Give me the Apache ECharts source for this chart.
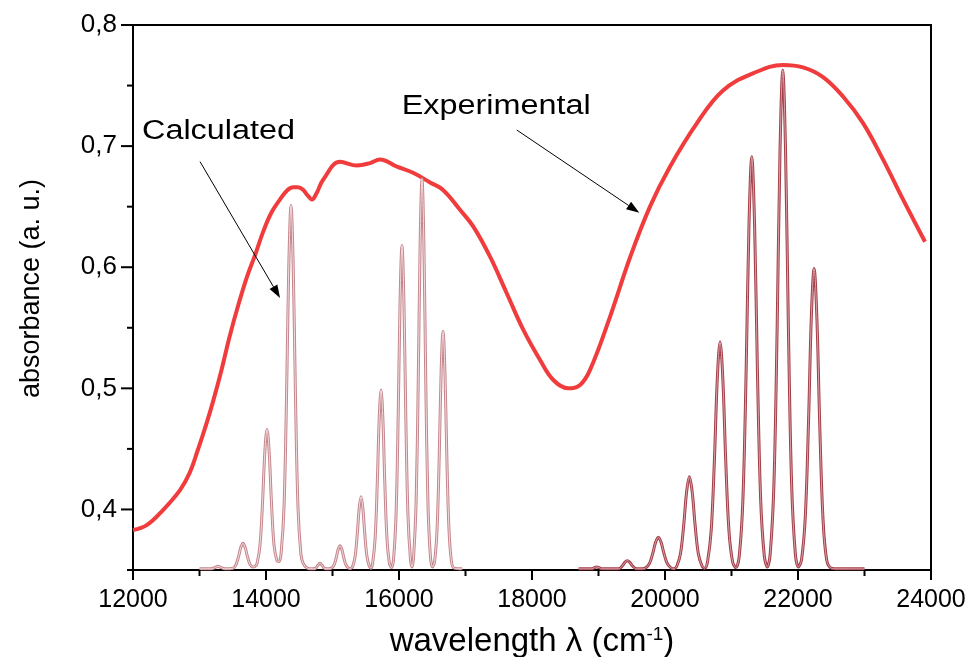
<!DOCTYPE html>
<html>
<head>
<meta charset="utf-8">
<script src="https://cdn.jsdelivr.net/npm/echarts@6/dist/echarts.min.js"></script>
<style>
  html, body { margin: 0; padding: 0; background: #fff; }
  #chart { width: 970px; height: 657px; }
</style>
</head>
<body>
<div id="chart"></div>
<script>
// Axis ticks
const xRange = [12000, 24000];
const xMajorTicks = [12000, 14000, 16000, 18000, 20000, 22000, 24000];
const xMinorTicks = [13000, 15000, 17000, 19000, 21000, 23000];
const yRange = [0.35, 0.8];
const yMajorTicks = [0.4, 0.5, 0.6, 0.7, 0.8];
const yMinorTicks = [0.35, 0.45, 0.55, 0.65, 0.75];

// Measured absorption band: [wavenumber (cm-1), absorbance]
const experimental = [
  [12000, 0.383], [12206, 0.387], [12451, 0.3995], [12707, 0.416], [12850, 0.430],
  [12962, 0.447], [13100, 0.470], [13203, 0.489], [13330, 0.515], [13459, 0.544],
  [13590, 0.570], [13714, 0.592], [13835, 0.610], [13955, 0.629], [14080, 0.645],
  [14211, 0.656], [14310, 0.663], [14406, 0.666], [14480, 0.666], [14557, 0.664],
  [14630, 0.659], [14690, 0.656], [14760, 0.661], [14857, 0.672], [15113, 0.687],
  [15369, 0.684], [15564, 0.686], [15714, 0.689], [15970, 0.683], [16211, 0.678],
  [16467, 0.670], [16662, 0.6638], [16917, 0.6474], [17118, 0.6335], [17369, 0.6087],
  [17620, 0.5785], [17870, 0.5482], [18121, 0.5234], [18321, 0.5069], [18547, 0.500],
  [18723, 0.5028], [18873, 0.5152], [19173, 0.559], [19474, 0.608], [19774, 0.650],
  [20075, 0.683], [20481, 0.719], [20872, 0.746], [21323, 0.760], [21774, 0.767],
  [22075, 0.765], [22376, 0.757], [22677, 0.741], [22978, 0.719], [23278, 0.689],
  [23579, 0.656], [23910, 0.621]
];

// Calculated vibronic progression, low-energy band
const calculatedLow = [
  [13000, 0.351], [13180, 0.351], [13240, 0.3522], [13278, 0.353], [13316, 0.3522], [13380, 0.351],
  [13505, 0.3515], [13549, 0.3544], [13588, 0.3612], [13621, 0.3685], [13654, 0.372],
  [13687, 0.3685], [13720, 0.3612], [13759, 0.3546], [13803, 0.3525], [13835, 0.353],
  [13866, 0.3556], [13910, 0.3706], [13949, 0.407], [13982, 0.447], [14015, 0.466],
  [14048, 0.447], [14081, 0.407], [14120, 0.371], [14164, 0.3577], [14195, 0.357],
  [14227, 0.3638], [14271, 0.402], [14310, 0.497], [14343, 0.6015], [14376, 0.651],
  [14409, 0.6015], [14442, 0.497], [14481, 0.402], [14525, 0.363], [14560, 0.3555],
  [14620, 0.3516], [14700, 0.351],
  [14740, 0.3512], [14775, 0.3535], [14812, 0.3555], [14849, 0.3535], [14885, 0.3512], [14940, 0.351],
  [14986, 0.3516], [15024, 0.3542], [15057, 0.3603], [15085, 0.3669], [15113, 0.370],
  [15141, 0.3669], [15169, 0.3603], [15202, 0.3542], [15240, 0.3516], [15271, 0.3512],
  [15302, 0.3528], [15340, 0.3611], [15373, 0.380], [15401, 0.4007], [15429, 0.4105],
  [15457, 0.4007], [15485, 0.380], [15518, 0.3611], [15556, 0.3528], [15580, 0.3515],
  [15603, 0.3554], [15641, 0.3761], [15674, 0.4229], [15702, 0.4742], [15730, 0.4986],
  [15758, 0.4742], [15786, 0.4229], [15819, 0.3761], [15857, 0.3554], [15888, 0.352],
  [15918, 0.359], [15956, 0.3964], [15989, 0.481], [16017, 0.574], [16045, 0.618],
  [16073, 0.574], [16101, 0.481], [16134, 0.3964], [16172, 0.359], [16196, 0.3525],
  [16219, 0.3607], [16257, 0.4057], [16290, 0.5078], [16318, 0.6199], [16346, 0.673],
  [16374, 0.6199], [16402, 0.5078], [16435, 0.4057], [16473, 0.3607], [16504, 0.3525],
  [16535, 0.3569], [16573, 0.3843], [16606, 0.4465], [16634, 0.5147], [16662, 0.547],
  [16690, 0.5147], [16718, 0.4465], [16751, 0.3843], [16789, 0.3569], [16830, 0.3515],
  [16950, 0.351]
];

// Calculated vibronic progression, high-energy band
const calculatedHigh = [
  [18700, 0.351], [18900, 0.351], [18940, 0.352], [18974, 0.3525], [19010, 0.352], [19050, 0.351],
  [19300, 0.351], [19360, 0.3535], [19400, 0.3565], [19434, 0.3577], [19468, 0.3565],
  [19508, 0.3535], [19570, 0.351], [19660, 0.351],
  [19711, 0.3518], [19767, 0.3554], [19816, 0.3637], [19858, 0.3727], [19900, 0.377],
  [19942, 0.3727], [19984, 0.3637], [20033, 0.3554], [20089, 0.3518], [20133, 0.351],
  [20178, 0.3533], [20234, 0.3639], [20283, 0.388], [20325, 0.4145], [20367, 0.427],
  [20409, 0.4145], [20451, 0.388], [20500, 0.3639], [20556, 0.3533], [20598, 0.3515],
  [20639, 0.3566], [20695, 0.3829], [20744, 0.4423], [20786, 0.5076], [20828, 0.5385],
  [20870, 0.5076], [20912, 0.4423], [20961, 0.3829], [21017, 0.3566], [21066, 0.352],
  [21116, 0.3612], [21172, 0.4089], [21221, 0.5167], [21263, 0.6351], [21305, 0.6913],
  [21347, 0.6351], [21389, 0.5167], [21438, 0.4089], [21494, 0.3612], [21538, 0.3525],
  [21582, 0.3634], [21638, 0.421], [21687, 0.5516], [21729, 0.695], [21771, 0.7629],
  [21813, 0.695], [21855, 0.5516], [21904, 0.421], [21960, 0.3634], [22006, 0.3525],
  [22053, 0.3584], [22109, 0.3932], [22158, 0.4718], [22200, 0.5581], [22242, 0.599],
  [22284, 0.5581], [22326, 0.4718], [22375, 0.3932], [22431, 0.3584], [22500, 0.3515],
  [22600, 0.351], [23000, 0.351]
];

// Annotation anchors in data coordinates
const labelCalculated = { text: 'Calculated', at: [12135, 0.712], arrowFrom: [13008, 0.6872], arrowTo: [14211, 0.5746] };
const labelExperimental = { text: 'Experimental', at: [16041, 0.7323], arrowFrom: [17771, 0.7133], arrowTo: [19614, 0.645] };

const FONT = "'Liberation Sans', Arial, sans-serif";
const chart = echarts.init(document.getElementById('chart'), null, { renderer: 'canvas' });

function commaDecimal(v) { return v.toFixed(1).replace('.', ','); }

function calcSeries(data, edge, core) {
  return [
    { type: 'line', data: data, smooth: 0.35, symbol: 'none', z: 3,
      lineStyle: { color: edge, width: 3 }, silent: true, animation: false },
    { type: 'line', data: data, smooth: 0.35, symbol: 'none', z: 4,
      lineStyle: { color: core, width: 1 }, silent: true, animation: false }
  ];
}

chart.setOption({
  animation: false,
  backgroundColor: '#fff',
  grid: {
    left: 133, right: 39, top: 25, bottom: 87, outerBoundsMode: 'none', containLabel: false,
    show: true, borderColor: '#000', borderWidth: 2, backgroundColor: 'transparent'
  },
  xAxis: {
    type: 'value', min: xRange[0], max: xRange[1], position: 'bottom',
    axisLine: { show: false },
    axisTick: { show: false },
    splitLine: { show: false },
    axisLabel: { color: '#000', fontFamily: FONT, fontSize: 25, margin: 18, customValues: xMajorTicks, formatter: (v) => String(v) },
    name: '{t|wavelength λ (cm}{s|-1}{t|)}',
    nameLocation: 'middle', nameGap: 55,
    nameTextStyle: {
      rich: {
        t: { fontFamily: FONT, fontSize: 33, color: '#000' },
        s: { fontFamily: FONT, fontSize: 19, color: '#000', verticalAlign: 'top', padding: [0, 0, 15, 0] }
      }
    }
  },
  yAxis: {
    type: 'value', min: yRange[0], max: yRange[1], position: 'left',
    axisLine: { show: false },
    axisTick: { show: false },
    axisLabel: { color: '#000', fontFamily: FONT, fontSize: 26, margin: 16, customValues: yMajorTicks, formatter: commaDecimal },
    splitLine: { show: false },
    name: 'absorbance (a. u.)',
    nameLocation: 'middle', nameGap: 88, nameRotate: 90,
    nameTextStyle: { fontFamily: FONT, fontSize: 27, color: '#000', padding: [0, 0, 0, 18] }
  },
  series: [
    { type: 'line', name: 'Experimental', data: experimental, smooth: 0.4, symbol: 'none', z: 2,
      lineStyle: { color: '#f03c3c', width: 4 }, silent: true, animation: false },
    ...calcSeries(calculatedLow, '#c4868c', '#f1dcde'),
    ...calcSeries(calculatedHigh, '#a23f49', '#d9a2a7')
  ]
});

// Outward tick marks on the bottom and left axes, placed through the axis scales
function tickMarks() {
  const y0 = chart.convertToPixel({ yAxisIndex: 0 }, yRange[0]);
  const x0 = chart.convertToPixel({ xAxisIndex: 0 }, xRange[0]);
  const marks = [];
  const add = (x1, y1, x2, y2) => marks.push({ type: 'line', z: 9, silent: true,
    shape: { x1: x1, y1: y1, x2: x2, y2: y2 }, style: { stroke: '#000', lineWidth: 2 } });
  xMajorTicks.forEach(v => { const x = chart.convertToPixel({ xAxisIndex: 0 }, v); add(x, y0, x, y0 + 10); });
  xMinorTicks.forEach(v => { const x = chart.convertToPixel({ xAxisIndex: 0 }, v); add(x, y0, x, y0 + 6); });
  yMajorTicks.forEach(v => { const y = chart.convertToPixel({ yAxisIndex: 0 }, v); add(x0, y, x0 - 12, y); });
  yMinorTicks.forEach(v => { const y = chart.convertToPixel({ yAxisIndex: 0 }, v); add(x0, y, x0 - 6, y); });
  return marks;
}

// Text labels with arrows pointing at the curves
function annotation(a) {
  const p = chart.convertToPixel({ gridIndex: 0 }, a.at);
  const s = chart.convertToPixel({ gridIndex: 0 }, a.arrowFrom);
  const e = chart.convertToPixel({ gridIndex: 0 }, a.arrowTo);
  const ang = Math.atan2(e[1] - s[1], e[0] - s[0]);
  const hl = 13, hw = 4.5;
  const bx = e[0] - hl * Math.cos(ang), by = e[1] - hl * Math.sin(ang);
  const nx = -Math.sin(ang), ny = Math.cos(ang);
  return [
    { type: 'text', x: p[0], y: p[1], scaleX: 1.2, z: 10,
      style: { text: a.text, fontFamily: FONT, fontSize: 27, fill: '#000', verticalAlign: 'middle', align: 'left' } },
    { type: 'line', z: 10, shape: { x1: s[0], y1: s[1], x2: bx, y2: by }, style: { stroke: '#000', lineWidth: 1 } },
    { type: 'polygon', z: 10, shape: { points: [[e[0], e[1]], [bx + nx * hw, by + ny * hw], [bx - nx * hw, by - ny * hw]] },
      style: { fill: '#000' } }
  ];
}

chart.setOption({ graphic: [...tickMarks(), ...annotation(labelCalculated), ...annotation(labelExperimental)] });
</script>
</body>
</html>
